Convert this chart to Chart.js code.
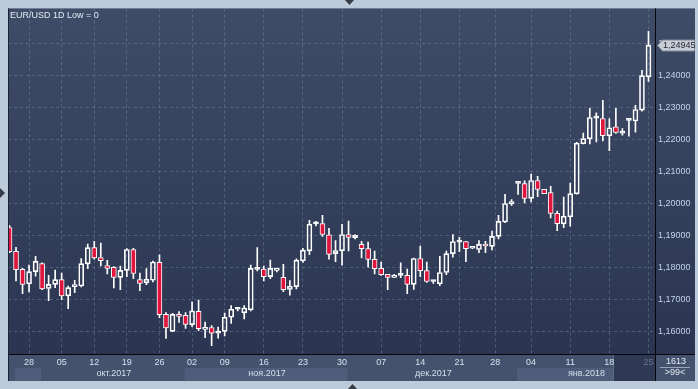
<!DOCTYPE html>
<html><head><meta charset="utf-8">
<script src="https://cdn.jsdelivr.net/npm/chart.js@4.4.1/dist/chart.umd.min.js"></script>
<style>
html,body{margin:0;padding:0;background:#bccad9;overflow:hidden;}
#wrap{position:relative;width:698px;height:389px;}
canvas{position:absolute;left:0;top:0;}
.t{position:absolute;font-family:"Liberation Sans",Arial,sans-serif;font-size:9px;line-height:9px;white-space:nowrap;}
</style></head><body>
<div id="wrap">
<canvas id="c" width="698" height="389"></canvas>
<div class="t" style="left:10px;top:11px;color:#e6ebf4;">EUR/USD 1D Low = 0</div>
<div class="t" style="left:656px;width:40px;text-align:center;top:356.5px;color:#e2e8f2;">1613</div>
<div class="t" style="left:655px;width:40px;text-align:center;top:368px;color:#e2e8f2;">&gt;99&lt;</div>
</div>
<script>
// ---- data (candle index = trading day) ----
const opens = [1.1924,1.1849,1.1793,1.1748,1.1786,1.1811,1.1733,1.1746,1.1761,1.1710,
1.1739,1.1741,1.1810,1.1861,1.1830,1.1805,1.1799,1.1768,1.1790,1.1855,
1.1761,1.1751,1.1759,1.1815,1.1652,1.1599,1.1652,1.1649,1.1620,1.1662,
1.1605,1.1611,1.1593,1.1599,1.1643,1.1668,1.1657,1.1666,1.1793,1.1794,
1.1770,1.1790,1.1768,1.1730,1.1739,1.1820,1.1851,1.1935,1.1936,1.1901,
1.1842,1.1851,1.1902,1.1892,1.1871,1.1858,1.1824,1.1796,1.1777,1.1768,
1.1774,1.1774,1.1746,1.1827,1.1789,1.1755,1.1748,1.1783,1.1842,1.1878,
1.1880,1.1859,1.1855,1.1872,1.1865,1.1896,1.1941,1.1998,1.2062,1.2061,
1.2015,1.2071,1.2043,1.2033,1.1968,1.1935,1.1957,1.2029,1.2186,1.2201,
1.2266,1.2265,1.2211,1.2239,1.2219,1.2259,1.2257,1.2291,1.2395];
const closes = [1.1848,1.1792,1.1746,1.1786,1.1818,1.1732,1.1746,1.1761,1.1710,1.1736,
1.1744,1.1811,1.1861,1.1829,1.1820,1.1796,1.1768,1.1790,1.1855,1.1780,
1.1749,1.1762,1.1816,1.1651,1.1610,1.1652,1.1646,1.1621,1.1663,1.1607,
1.1611,1.1593,1.1600,1.1643,1.1668,1.1670,1.1672,1.1796,1.1795,1.1770,
1.1796,1.1796,1.1729,1.1740,1.1822,1.1853,1.1934,1.1936,1.1902,1.1840,
1.1852,1.1902,1.1893,1.1900,1.1858,1.1824,1.1795,1.1776,1.1768,1.1774,
1.1775,1.1746,1.1827,1.1789,1.1755,1.1757,1.1783,1.1842,1.1880,1.1879,
1.1858,1.1864,1.1871,1.1866,1.1896,1.1943,1.1999,1.2005,1.2065,1.2015,
1.2071,1.2043,1.2030,1.1968,1.1936,1.1959,1.2030,1.2188,1.2202,1.2268,
1.2267,1.2211,1.2236,1.2221,1.2221,1.2260,1.2293,1.2399,1.24945];
const highs = [1.1930,1.1862,1.1796,1.1806,1.1834,1.1813,1.1774,1.1791,1.1781,1.1741,
1.1759,1.1827,1.1872,1.1881,1.1875,1.1821,1.1802,1.1803,1.1858,1.1859,
1.1781,1.1795,1.1819,1.1838,1.1658,1.1655,1.1661,1.1658,1.1691,1.1697,
1.1628,1.1617,1.1612,1.1656,1.1680,1.1673,1.1680,1.1806,1.1861,1.1803,
1.1822,1.1797,1.1809,1.1758,1.1826,1.1859,1.1946,1.1943,1.1962,1.1921,
1.1883,1.1934,1.1944,1.1901,1.1881,1.1878,1.1850,1.1816,1.1777,1.1777,
1.1813,1.1794,1.1828,1.1866,1.1816,1.1759,1.1834,1.1850,1.1902,1.1893,
1.1881,1.1865,1.1883,1.1881,1.1913,1.1962,1.2028,1.2011,1.2066,1.2070,
1.2091,1.2084,1.2043,1.2053,1.1975,1.2019,1.2063,1.2190,1.2219,1.2297,
1.2283,1.2322,1.2265,1.2297,1.2233,1.2265,1.2306,1.2416,1.2538];
const lows = [1.1845,1.1757,1.1717,1.1722,1.1772,1.1729,1.1695,1.1736,1.1698,1.1670,
1.1720,1.1738,1.1795,1.1825,1.1804,1.1779,1.1735,1.1729,1.1770,1.1764,
1.1726,1.1745,1.1754,1.1642,1.1577,1.1598,1.1627,1.1608,1.1614,1.1601,
1.1579,1.1554,1.1578,1.1585,1.1624,1.1663,1.1638,1.1663,1.1788,1.1757,
1.1764,1.1785,1.1723,1.1712,1.1732,1.1815,1.1839,1.1929,1.1896,1.1825,
1.1817,1.1806,1.1851,1.1888,1.1829,1.1800,1.1779,1.1774,1.1729,1.1767,
1.1767,1.1717,1.1730,1.1770,1.1752,1.1749,1.1742,1.1776,1.1831,1.1848,
1.1817,1.1858,1.1845,1.1845,1.1854,1.1888,1.1939,1.1993,1.2027,1.2001,
1.2004,1.2020,1.2030,1.1954,1.1914,1.1923,1.1928,1.2028,1.2185,1.2185,
1.2192,1.2195,1.2164,1.2218,1.2213,1.2210,1.2222,1.2288,1.2381];

// date ticks (candle index -> day label)
const dateTickIdx = [3,8,13,18,23,28,33,39,45,51,57,63,69,74.5,80,86,92,98];
const dateTickLabels = ['28','05','12','19','26','02','09','16','23','30','07','14','21','28','04','11','18','25'];
// month bands (first candle index of each month)
const monthLabels = ['', 'окт.2017', 'ноя.2017', 'дек.2017', 'янв.2018'];
const monthStarts = [1, 5, 27, 52, 78];
const monthEnds   = [5, 27, 52, 78, 99];
// price axis
const priceTicks = [1.16,1.17,1.18,1.19,1.20,1.21,1.22,1.23,1.24,1.25];
const lastPrice = closes[closes.length - 1];

// ---- view / style ----
const X_MIN = -0.23, X_MAX = 99.0;
const Y_MIN = 1.1528125, Y_MAX = 1.2609375;
const SHADE_FROM = 92.6;
const RED = '#e0143c';
const FONT = '"Liberation Sans", Arial, sans-serif';
const GRID = 'rgba(120,140,178,0.45)';

const idx = opens.map((_, i) => i);
const bodies = idx.map(i => ({x: i, y: [opens[i], closes[i]]}));
const upperW = idx.map(i => ({x: i, y: [Math.max(opens[i], closes[i]), highs[i]]}));
const lowerW = idx.map(i => ({x: i, y: [lows[i], Math.min(opens[i], closes[i])]}));
const monthCenters = monthStarts.map((s, k) => (s + monthEnds[k]) / 2);

const fmt = v => v.toFixed(5).replace('.', ',');

const deco = {
  id: 'deco',
  beforeDraw(chart) {
    const {ctx, chartArea: a} = chart;
    const xs = chart.scales.x;
    const R = a.right + 40;
    ctx.save();
    ctx.fillStyle = '#bccad9';
    ctx.fillRect(0, 0, chart.width, chart.height);
    const g = ctx.createLinearGradient(0, a.top, 0, a.bottom);
    g.addColorStop(0, '#3f4c67');
    g.addColorStop(1, '#2b3551');
    ctx.fillStyle = g;
    ctx.fillRect(a.left, a.top, R - a.left, a.bottom - a.top);
    // date strip
    ctx.fillStyle = '#45526d';
    ctx.fillRect(a.left, a.bottom, R - a.left, 27);
    monthStarts.forEach((s, k) => {
      if (k % 2 === 0) {
        const x0 = xs.getPixelForValue(s) - 1;
        const x1 = Math.min(xs.getPixelForValue(monthEnds[k]) - 1, a.right);
        ctx.fillStyle = '#505d7a';
        ctx.fillRect(x0, a.bottom + 14, x1 - x0, 13);
      }
    });
    const sx = Math.round(xs.getPixelForValue(SHADE_FROM));
    ctx.fillStyle = '#2f3953';
    ctx.fillRect(sx, a.bottom + 1, a.right - sx, 26);
    ctx.fillStyle = '#5d6a85';
    ctx.fillRect(sx, a.bottom + 1, 1, 26);
    ctx.restore();
  },
  afterDraw(chart) {
    const {ctx, chartArea: a} = chart;
    const ys = chart.scales.y;
    const R = a.right + 40;
    ctx.save();
    // separators
    ctx.fillStyle = '#05070c';
    ctx.fillRect(a.right, a.top, 1, a.bottom + 27 - a.top);
    ctx.fillRect(a.left, a.bottom, R - a.left, 1);
    ctx.fillStyle = '#1b2233';
    ctx.fillRect(a.left, a.top, 1, a.bottom + 27 - a.top);
    // counter divider
    ctx.fillStyle = '#9aa6ba';
    ctx.fillRect(a.right + 5, a.bottom + 13, 30, 1);
    // last price marker
    const py = Math.round(ys.getPixelForValue(lastPrice)) + 0.5;
    const x0 = a.right + 2.5, x1 = R - 0.5;
    ctx.beginPath();
    ctx.moveTo(x0, py);
    ctx.lineTo(x0 + 5, py - 5.5);
    ctx.lineTo(x1, py - 5.5);
    ctx.lineTo(x1, py + 5.5);
    ctx.lineTo(x0 + 5, py + 5.5);
    ctx.closePath();
    ctx.fillStyle = '#c9ced6';
    ctx.fill();
    ctx.strokeStyle = '#848c99';
    ctx.lineWidth = 1;
    ctx.stroke();
    ctx.fillStyle = '#1c2030';
    ctx.font = '9px ' + FONT;
    ctx.textBaseline = 'middle';
    ctx.textAlign = 'left';
    ctx.fillText(fmt(lastPrice), a.right + 8, py);
    // scroll markers
    ctx.fillStyle = '#363c48';
    ctx.beginPath(); ctx.moveTo(345, 0); ctx.lineTo(354, 0); ctx.lineTo(349.5, 5); ctx.closePath(); ctx.fill();
    ctx.beginPath(); ctx.moveTo(0, 188); ctx.lineTo(0, 198); ctx.lineTo(5, 193); ctx.closePath(); ctx.fill();
    ctx.beginPath(); ctx.moveTo(348, 389); ctx.lineTo(357, 389); ctx.lineTo(352.5, 384); ctx.closePath(); ctx.fill();
    ctx.restore();
  }
};

Chart.defaults.font.family = FONT;
Chart.defaults.font.size = 9;

new Chart(document.getElementById('c'), {
  type: 'bar',
  data: {
    datasets: [
      { data: bodies, grouped: false, order: 0, barThickness: 5, maxBarThickness: 5, minBarLength: 2,
        backgroundColor: idx.map(i => closes[i] < opens[i] ? RED : 'rgba(0,0,0,0)'),
        borderColor: '#ffffff', borderWidth: 1, borderSkipped: false },
      { data: upperW, grouped: false, order: 1, barThickness: 1, maxBarThickness: 1,
        backgroundColor: '#ffffff', borderWidth: 0 },
      { data: lowerW, grouped: false, order: 2, barThickness: 1, maxBarThickness: 1,
        backgroundColor: '#ffffff', borderWidth: 0 }
    ]
  },
  options: {
    responsive: false,
    animation: false,
    devicePixelRatio: 1,
    layout: { padding: { left: 8, top: 8, right: 3, bottom: 8 } },
    plugins: { legend: { display: false }, tooltip: { enabled: false }, title: { display: false } },
    events: [],
    scales: {
      x: {
        type: 'linear', position: 'bottom', weight: 0, min: X_MIN, max: X_MAX, offset: false,
        afterBuildTicks: s => { s.ticks = dateTickIdx.map(v => ({ value: v })); },
        afterFit: s => { s.height = 13; },
        grid: { color: GRID, drawTicks: false, offset: false },
        border: { display: false, dash: [3, 3] },
        ticks: {
          padding: 3, maxRotation: 0, autoSkip: false,
          color: c => c.index === dateTickLabels.length - 1 ? '#68748e' : '#d6e0ef',
          font: { size: 9 },
          callback: (v, i) => dateTickLabels[i]
        }
      },
      x2: {
        type: 'linear', position: 'bottom', weight: 1, min: X_MIN, max: X_MAX, offset: false,
        afterBuildTicks: s => { s.ticks = monthCenters.map(v => ({ value: v })); },
        afterFit: s => { s.height = 14; },
        grid: { display: false, drawTicks: false, offset: false },
        border: { display: false },
        ticks: {
          padding: 1, maxRotation: 0, autoSkip: false, color: '#d6dfec', font: { size: 9 },
          callback: (v, i) => monthLabels[i]
        }
      },
      y: {
        type: 'linear', position: 'right', min: Y_MIN, max: Y_MAX,
        afterBuildTicks: s => { s.ticks = priceTicks.map(v => ({ value: v })); },
        afterFit: s => { s.width = 40; },
        grid: { color: GRID, drawTicks: false },
        border: { display: false, dash: [3, 3] },
        ticks: { padding: 3, color: '#c4d2ea', font: { size: 9 }, callback: v => fmt(v) }
      }
    }
  },
  plugins: [deco]
});
</script>
</body></html>
